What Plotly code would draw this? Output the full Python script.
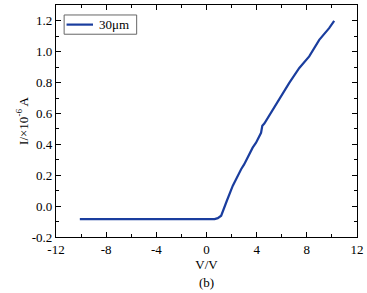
import plotly.graph_objects as go

voltage = [-10.1, -8, -6, -4, -2, 0, 0.64, 0.9, 1.17, 1.6, 2.09, 2.76, 3.0, 3.68, 3.95, 4.35, 4.45, 4.61, 5.28, 5.81, 6.60, 7.40, 8.19, 8.99, 9.78, 10.18]
current = [-0.084, -0.084, -0.084, -0.084, -0.084, -0.083, -0.084, -0.078, -0.062, 0.03, 0.131, 0.239, 0.27, 0.379, 0.411, 0.475, 0.52, 0.535, 0.626, 0.69, 0.798, 0.895, 0.97, 1.077, 1.153, 1.2]

series_name = "30μm"
x_ticks = [-12, -8, -4, 0, 4, 8, 12]
y_ticks = [-0.2, 0.0, 0.2, 0.4, 0.6, 0.8, 1.0, 1.2]

font_family = "Liberation Serif, Times New Roman, serif"
line_color = "#1a3d9e"
fs = 13

fig = go.Figure()
fig.add_trace(go.Scatter(x=voltage, y=current, mode="lines", name=series_name,
                         line=dict(color=line_color, width=2.2), showlegend=False))

axis_common = dict(showline=True, linecolor="black", linewidth=1.2, mirror="ticks",
                   ticks="inside", ticklen=5, tickcolor="black", showgrid=False,
                   zeroline=False, automargin=False, ticklabeloverflow="allow",
                   tickfont=dict(family=font_family, size=fs, color="black"))

# legend drawn in paper coordinates (box, sample line, label)
fig.add_shape(type="rect", xref="paper", yref="paper", x0=0.027, x1=0.268, y0=0.874, y1=0.957,
              line=dict(color="#666666", width=1), fillcolor="white", layer="above")
fig.add_shape(type="line", xref="paper", yref="paper", x0=0.035, x1=0.123, y0=0.9155, y1=0.9155,
              line=dict(color=line_color, width=2.2), layer="above")

fig.update_layout(
    width=367, height=293,
    margin=dict(l=56, r=10, t=5, b=56),
    plot_bgcolor="white", paper_bgcolor="white",
    font=dict(family=font_family, size=fs, color="black"),
    xaxis=dict(range=[-12, 12], tickvals=x_ticks, ticktext=[str(v) for v in x_ticks],
               minor=dict(ticks="inside", ticklen=3, dtick=2, tickcolor="black"),
               title=dict(text="V/V", font=dict(family=font_family, size=fs), standoff=1),
               **axis_common),
    yaxis=dict(range=[-0.2, 1.303], tickvals=y_ticks, ticktext=[f"{v:.1f}" for v in y_ticks],
               minor=dict(ticks="inside", ticklen=3, dtick=0.1, tick0=0, tickcolor="black"),
               title=dict(text="I/×10<sup>-6</sup> A", font=dict(family=font_family, size=fs), standoff=0),
               **axis_common),
    showlegend=False,
    annotations=[
        dict(text=series_name, x=0.135, y=0.9155, xref="paper", yref="paper",
             showarrow=False, xanchor="left", yanchor="middle",
             font=dict(family=font_family, size=fs)),
        dict(text="(b)", x=0.5, y=-0.197, xref="paper", yref="paper",
             showarrow=False, yanchor="middle",
             font=dict(family=font_family, size=fs)),
    ],
)

fig.write_html("out.html", config={"displayModeBar": False},
               post_script="document.body.style.margin='0';document.body.style.padding='0';")
